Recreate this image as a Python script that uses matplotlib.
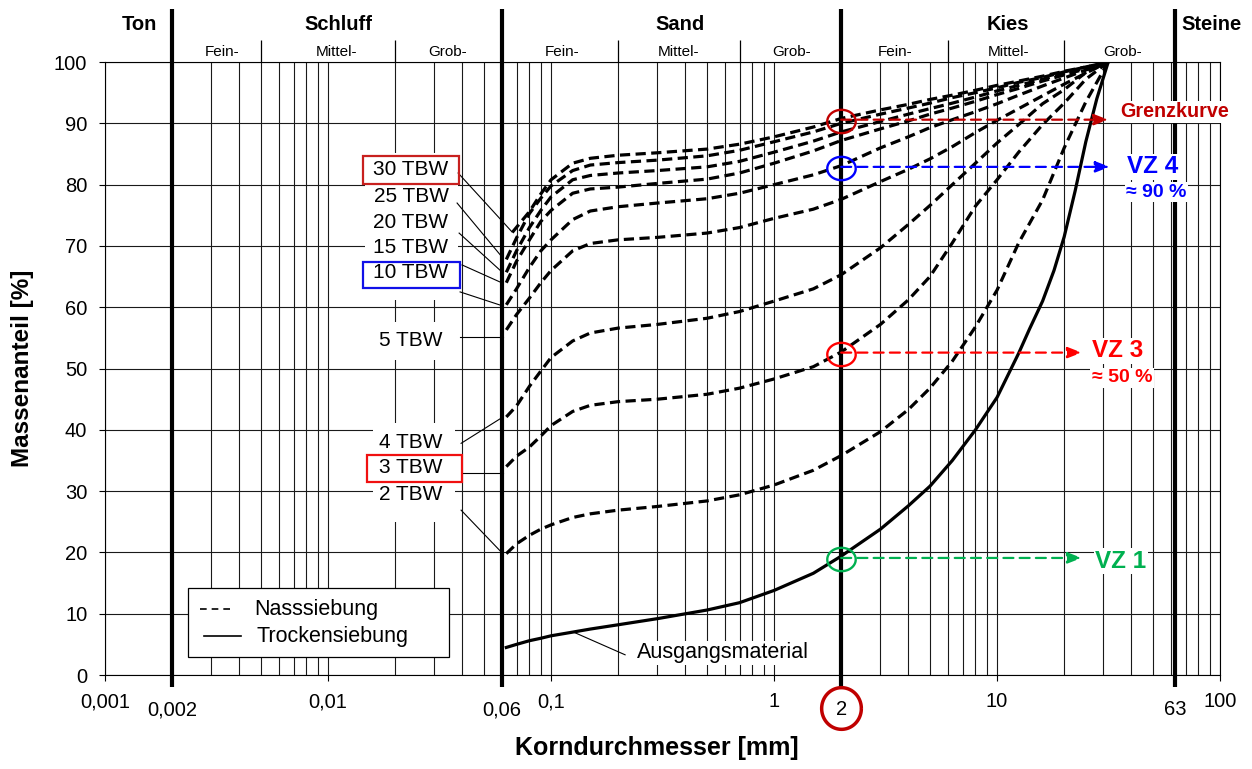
import numpy as np
import matplotlib.pyplot as plt
from matplotlib.patches import Rectangle
from matplotlib.path import Path

plt.rcParams['font.family'] = ['Liberation Sans', 'DejaVu Sans']

# Siebdurchmesser [mm] und Siebdurchgaenge [%]
d = [0.063, 0.07, 0.08, 0.09, 0.1, 0.125, 0.15, 0.2, 0.3, 0.5, 0.7, 1, 1.5, 2,
     3, 4, 5, 6.3, 8, 10, 12.5, 16, 20, 25, 31.5]
d30 = [0.067, 0.08, 0.09, 0.1, 0.125, 0.15, 0.2, 0.3, 0.5, 0.7, 1, 1.5, 2,
       3, 4, 5, 6.3, 8, 10, 12.5, 16, 20, 25, 31.5]
d_aus = [0.063, 0.07, 0.08, 0.09, 0.1, 0.125, 0.15, 0.2, 0.3, 0.5, 0.7, 1, 1.5, 2,
         3, 4, 5, 6.3, 8, 10, 12.5, 14, 16, 18, 20, 22.4, 25, 28, 31.5]

ausgang = [4.5, 5.0, 5.6, 6.0, 6.4, 7.0, 7.5, 8.2, 9.2, 10.6, 11.8, 13.8, 16.6, 19.4,
           23.8, 27.6, 30.8, 35.0, 40.0, 45.3, 52.5, 56.5, 61.0, 66.0, 71.5, 79.0, 87.0,
           94.0, 100]
tbw2 = [19.8, 21.4, 22.8, 23.8, 24.5, 25.7, 26.3, 26.9, 27.5, 28.4, 29.4, 31.0, 33.4, 35.8,
        39.7, 43.3, 46.8, 51.2, 56.8, 62.8, 70.5, 77.5, 86.0, 93.5, 100]
tbw3 = [34.0, 35.7, 37.2, 39.0, 40.7, 43.0, 44.0, 44.6, 45.0, 45.8, 46.8, 48.3, 50.3, 52.7,
        57.2, 61.2, 65.0, 70.5, 76.5, 80.8, 85.3, 89.8, 93.3, 97.2, 100]
tbw4 = [42.1, 43.9, 47.1, 49.6, 51.8, 54.5, 55.8, 56.6, 57.2, 58.2, 59.3, 61.0, 63.0, 65.3,
        69.7, 73.5, 76.6, 80.0, 83.5, 86.8, 89.8, 93.2, 95.5, 98.3, 100]
tbw5 = [56.3, 58.8, 61.5, 64.0, 66.0, 69.2, 70.4, 71.0, 71.4, 72.1, 73.0, 74.5, 76.0, 77.6,
        80.5, 82.5, 84.2, 86.2, 88.5, 90.5, 92.4, 94.5, 96.4, 98.2, 100]
tbw10 = [60.4, 63.0, 66.5, 69.2, 71.0, 74.3, 75.7, 76.4, 77.0, 77.7, 78.6, 80.0, 81.6, 83.1,
         86.0, 87.8, 89.3, 90.6, 91.9, 93.2, 94.6, 96.1, 97.4, 98.7, 100]
tbw15 = [64.0, 67.5, 71.0, 74.0, 75.8, 78.6, 79.3, 79.6, 80.2, 80.9, 81.9, 83.5, 85.5, 87.2,
         89.1, 90.4, 91.5, 92.5, 93.6, 94.7, 95.7, 96.9, 97.9, 98.9, 100]
tbw20 = [65.7, 69.2, 73.0, 75.8, 78.0, 80.8, 81.5, 81.9, 82.3, 82.9, 83.8, 85.3, 87.1, 88.6,
         90.3, 91.5, 92.4, 93.3, 94.3, 95.3, 96.2, 97.2, 98.1, 99.1, 100]
tbw25 = [67.8, 71.3, 75.3, 77.8, 79.8, 82.3, 83.2, 83.6, 84.0, 84.7, 85.6, 87.0, 88.6, 90.0,
         91.5, 92.5, 93.3, 94.2, 95.0, 95.8, 96.7, 97.5, 98.4, 99.2, 100]
tbw30 = [72.2, 75.6, 78.5, 80.8, 83.5, 84.3, 84.8, 85.2, 85.8, 86.6, 87.8, 89.4, 90.8,
         92.2, 93.1, 93.9, 94.6, 95.4, 96.2, 96.9, 97.7, 98.5, 99.2, 100]

# Bodenarten-Grenzen und Beschriftung
grenzen = [0.002, 0.06, 2, 63]
teilgrenzen = [0.005, 0.02, 0.2, 0.7, 6, 20]
arten = ['Ton', 'Schluff', 'Sand', 'Kies', 'Steine']
arten_x = [0.00143, 0.0111, 0.379, 11.2, 91.1]
teil = ['Fein-', 'Mittel-', 'Grob-'] * 3
teil_x = [0.00334, 0.0109, 0.0344, 0.112, 0.371, 1.2, 3.49, 11.3, 36.5]

xt_oben = [0.001, 0.01, 0.1, 1, 10, 100]
xt_oben_lab = ['0,001', '0,01', '0,1', '1', '10', '100']
xt_unten = [0.002, 0.06, 2, 63]
xt_unten_lab = ['0,002', '0,06', '2', '63']

# TBW-Beschriftungen: Text, Textposition y, Hinweislinie
tbw_lab = ['30 TBW', '25 TBW', '20 TBW', '15 TBW', '10 TBW', '5 TBW', '4 TBW', '3 TBW', '2 TBW']
tbw_y = [82.4, 78.1, 73.9, 69.8, 65.6, 54.6, 38.0, 33.8, 29.5]
lead_x0 = [0.0383, 0.0379, 0.0387, 0.0399, 0.0391, 0.0391, 0.0395, 0.0399, 0.0395]
lead_y0 = [81.9, 77.0, 72.1, 66.9, 62.5, 55.1, 37.8, 33.0, 26.9]
lead_x1 = [0.0668, 0.0609, 0.0609, 0.0609, 0.0609, 0.0609, 0.0609, 0.0609, 0.0604]
lead_y1 = [72.3, 68.0, 65.6, 63.9, 60.2, 55.1, 42.1, 33.0, 19.9]

fig = plt.figure(figsize=(12.52, 7.69), dpi=100)
ax = fig.add_axes([0.0839, 0.1222, 0.8906, 0.7971])
ax.set_xscale('log')
ax.set_xlim(0.001, 100)
ax.set_ylim(0, 100)

# Raster
grid_x = [m * 10.0 ** e for e in range(-3, 2) for m in range(1, 10)] + [100]
grid_x = [g for g in grid_x if not np.any(np.isclose(g, grenzen))]
ax.vlines(grid_x, 0, 100, color='#1a1a1a', lw=0.8, zorder=1)
ax.hlines(np.arange(0, 101, 10), 0.001, 100, color='#1a1a1a', lw=0.8, zorder=1)
g = ax.vlines(grenzen, -2, 108.6, color='k', lw=3.0, zorder=2)
g.set_clip_on(False)
t = ax.vlines(teilgrenzen, 100, 103.6, color='k', lw=0.9, zorder=2)
t.set_clip_on(False)

for s in ax.spines.values():
    s.set_linewidth(0.8)

ax.set_xticks(xt_oben)
ax.set_xticklabels([])
ax.minorticks_off()
ax.set_yticks(np.arange(0, 101, 10))
ax.tick_params(axis='both', length=4.3, width=0.8, direction='out')
ax.tick_params(axis='y', labelsize=14.5, pad=8.5)

for x, s in zip(xt_oben, xt_oben_lab):
    ax.text(x, -0.044, s, transform=ax.get_xaxis_transform(), ha='center', va='center',
            fontsize=14.5)
for x, s in zip(xt_unten, xt_unten_lab):
    ax.text(x, -0.057, s, transform=ax.get_xaxis_transform(), ha='center', va='center',
            fontsize=14.5)

for x, s in zip(arten_x, arten):
    ax.text(x, 106.2, s, ha='center', va='center', fontsize=14.5, fontweight='bold',
            clip_on=False)
for x, s in zip(teil_x, teil):
    ax.text(x, 101.6, s, ha='center', va='center', fontsize=11, clip_on=False)

# Sieblinien
dash = (0, (3.2, 1.7))
for y in [tbw2, tbw3, tbw4, tbw5, tbw10, tbw15, tbw20, tbw25]:
    ax.plot(d, y, color='k', lw=2.3, linestyle=dash, zorder=3)
ax.plot(d30, tbw30, color='k', lw=2.3, linestyle=dash, zorder=3)
ax.plot(d_aus, ausgang, color='k', lw=2.3, zorder=3)

# Beschriftung der Kurven links
ax.add_patch(Rectangle((0.01464, 61.2), 0.03826 - 0.01464, 24.0, facecolor='white',
                       edgecolor='none', zorder=2))
ax.add_patch(Rectangle((0.01464, 51.4), 0.03826 - 0.01464, 6.2, facecolor='white',
                       edgecolor='none', zorder=2))
ax.add_patch(Rectangle((0.0159, 25.0), 0.03711 - 0.0159, 16.1, facecolor='white',
                       edgecolor='none', zorder=2))
ax.add_patch(Rectangle((0.01437, 80.1), 0.03867 - 0.01437, 4.6, facecolor='none',
                       edgecolor='#c8201e', lw=1.6, zorder=4))
ax.add_patch(Rectangle((0.01437, 63.1), 0.03907 - 0.01437, 4.3, facecolor='none',
                       edgecolor='#1010e8', lw=1.6, zorder=4))
ax.add_patch(Rectangle((0.01496, 31.5), 0.03987 - 0.01496, 4.4, facecolor='none',
                       edgecolor='#f01010', lw=1.6, zorder=4))
for s, y, x0, y0, x1, y1 in zip(tbw_lab, tbw_y, lead_x0, lead_y0, lead_x1, lead_y1):
    ax.text(0.02355, y, s, ha='center', va='center', fontsize=15, zorder=5)
    ax.plot([x0, x1], [y0, y1], color='k', lw=0.8, zorder=3)

ax.plot([0.128, 0.2148], [6.9, 3.3], color='k', lw=0.8, zorder=3)
ax.text(0.243, 3.6, 'Ausgangsmaterial', ha='left', va='center', fontsize=15.5, zorder=5,
        bbox=dict(facecolor='white', edgecolor='none', pad=1))

# Legende
ax.add_patch(Rectangle((0.0743, 0.0289), 0.2342, 0.1125, transform=ax.transAxes,
                       facecolor='white', edgecolor='k', lw=0.9, zorder=5))
ax.plot([0.0852, 0.1166], [0.1072, 0.1072], transform=ax.transAxes, color='k', lw=1.2,
        linestyle=(0, (4, 3)), zorder=6)
ax.plot([0.0888, 0.1220], [0.0636, 0.0636], transform=ax.transAxes, color='k', lw=1.2,
        zorder=6)
ax.text(0.1336, 0.1077, 'Nasssiebung', transform=ax.transAxes, ha='left', va='center',
        fontsize=15.5, zorder=6)
ax.text(0.1354, 0.0636, 'Trockensiebung', transform=ax.transAxes, ha='left', va='center',
        fontsize=15.5, zorder=6)

# Verwitterungszahlen bei 2 mm
tt = np.linspace(0, 2 * np.pi, 80)
oval = Path(np.column_stack([np.cos(tt), 0.82 * np.sin(tt)]))
rund = Path(np.column_stack([np.cos(tt), 1.05 * np.sin(tt)]))

vz_y = [90.6, 82.9, 52.6, 19.1]
vz_end = [31.5, 32, 24, 24]
vz_col = ['#c00000', '#0000ff', '#ff0000', '#00b050']
for y, xe, c in zip(vz_y, vz_end, vz_col):
    ax.plot(2, y - 0.2, marker=oval, ms=20.5, mfc='none', mec=c, mew=1.7, zorder=7)
    ax.annotate('', xy=(xe, y), xytext=(2, y),
                arrowprops=dict(arrowstyle='-|>,head_length=0.85,head_width=0.33',
                                color=c, lw=1.6, linestyle=(0, (4.5, 2.8)),
                                shrinkA=0, shrinkB=0, mutation_scale=10), zorder=7)

ax.plot(2, -5.4, marker=rund, ms=30, mfc='none', mec='#c00000', mew=2.5, clip_on=False,
        zorder=7)

box = dict(facecolor='white', edgecolor='none', pad=1)
ax.text(35.6, 91.9, 'Grenzkurve', color='#c00000', fontsize=14.2, fontweight='bold',
        ha='left', va='center', clip_on=False, bbox=box, zorder=8)
ax.text(38.2, 82.9, 'VZ 4', color='#0000ff', fontsize=17.5, fontweight='bold',
        ha='left', va='center', clip_on=False, bbox=box, zorder=8)
ax.text(37.9, 78.8, '≈ 90 %', color='#0000ff', fontsize=14, fontweight='bold',
        ha='left', va='center', clip_on=False, bbox=box, zorder=8)
ax.text(26.6, 52.9, 'VZ 3', color='#ff0000', fontsize=17.5, fontweight='bold',
        ha='left', va='center', bbox=box, zorder=8)
ax.text(26.6, 48.5, '≈ 50 %', color='#ff0000', fontsize=14, fontweight='bold',
        ha='left', va='center', bbox=box, zorder=8)
ax.text(27.5, 18.6, 'VZ 1', color='#00b050', fontsize=17.5, fontweight='bold',
        ha='left', va='center', bbox=box, zorder=8)

ax.text(-0.0744, 0.5, 'Massenanteil [%]', transform=ax.transAxes, rotation=90,
        ha='center', va='center', fontsize=17.5, fontweight='bold')
ax.text(0.495, -0.119, 'Korndurchmesser [mm]', transform=ax.transAxes, ha='center',
        va='center', fontsize=18, fontweight='bold')

fig.savefig('out.png', dpi=100)
